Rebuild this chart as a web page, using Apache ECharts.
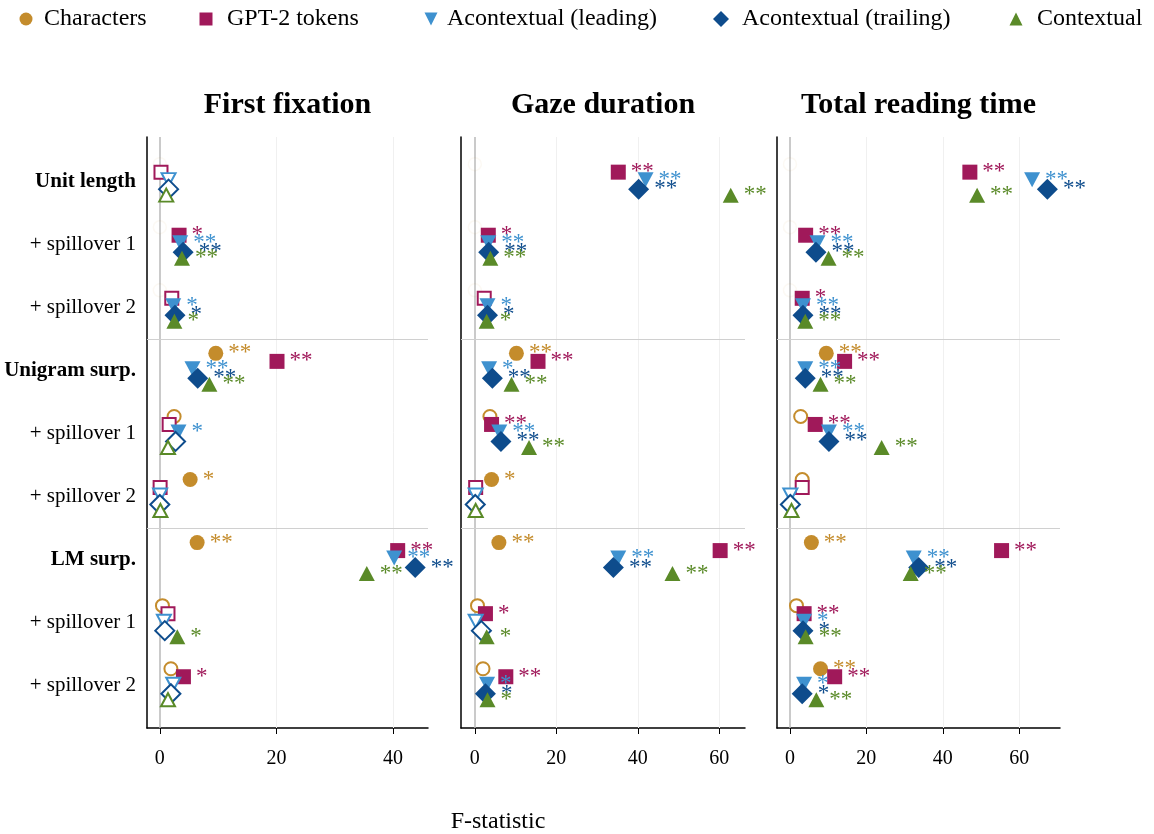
<!DOCTYPE html>
<html>
<head>
<meta charset="utf-8">
<script src="https://cdn.jsdelivr.net/npm/echarts@6/dist/echarts.min.js"></script>
<style>html,body{margin:0;padding:0;background:#fff;}#c{width:1154px;height:834px;}</style>
</head>
<body>
<div id="c"></div>
<script>
// ---- data ----
const rowLabels = ['Unit length','+ spillover 1','+ spillover 2','Unigram surp.','+ spillover 1','+ spillover 2','LM surp.','+ spillover 1','+ spillover 2'];
const headerRows = [0,3,6];
const panelTitles = ['First fixation','Gaze duration','Total reading time'];
const seriesNames = ['Characters','GPT-2 tokens','Acontextual (leading)','Acontextual (trailing)','Contextual'];
const xTicks = [[0,20,40],[0,20,40,60],[0,20,40,60]];

// First fixation
const ffChars = [0,0,0, 9.6,2.45,5.2, 6.4,0.45,1.9];
const ffCharsSig = ['na','na','na','**','','*','**','',''];
const ffTok = [0.2,3.3,2.05, 20.1,1.6,0.05, 40.8,1.4,4.05];
const ffTokSig = ['','*','','**','','','**','','*'];
const ffLead = [1.5,3.5,2.3, 5.6,3.2,0.05, 40.2,0.7,2.3];
const ffLeadSig = ['','**','*','**','*','','**','',''];
const ffTrail = [1.5,4.0,2.6, 6.5,2.7,0, 43.8,0.85,1.9];
const ffTrailSig = ['','**','*','**','','','**','',''];
const ffCtx = [1.1,3.8,2.5, 8.5,1.4,0.1, 35.5,3.0,1.4];
const ffCtxSig = ['','**','*','**','','','**','*',''];

// Gaze duration
const gdChars = [0,0,0, 10.2,3.7,4.1, 5.9,0.65,2.0];
const gdCharsSig = ['na','na','na','**','','*','**','',''];
const gdTok = [35.2,3.3,2.3, 15.5,4.1,0.2, 60.2,2.6,7.6];
const gdTokSig = ['**','*','','**','**','','**','*','**'];
const gdLead = [41.9,3.3,3.1, 3.5,6.0,0.2, 35.2,0.2,3.0];
const gdLeadSig = ['**','**','*','*','**','','**','','*'];
const gdTrail = [40.2,3.4,3.1, 4.3,6.4,0.1, 34.0,1.6,2.6];
const gdTrailSig = ['**','**','*','**','**','','**','','*'];
const gdCtx = [62.8,3.8,2.9, 9.0,13.3,0.2, 48.5,2.9,3.1];
const gdCtxSig = ['**','**','*','**','**','','**','*','*'];

// Total reading time
const trChars = [0,0,0, 9.5,2.8,3.2, 5.6,1.7,8.0];
const trCharsSig = ['na','na','na','**','','','**','','**'];
const trTok = [47.1,4.1,3.2, 14.3,6.6,3.2, 55.4,3.7,11.7];
const trTokSig = ['**','**','*','**','**','','**','**','**'];
const trLead = [63.4,7.2,3.4, 4.0,10.2,0.1, 32.4,3.7,3.7];
const trLeadSig = ['**','**','**','**','**','','**','*','*'];
const trTrail = [67.4,6.8,3.4, 4.0,10.2,0.1, 33.7,3.4,3.2];
const trTrailSig = ['**','**','**','**','**','','**','*','*'];
const trCtx = [49.0,10.1,4.0, 8.0,24.0,0.4, 31.6,4.1,6.9];
const trCtxSig = ['**','**','**','**','**','','**','**','**'];

// ---- styling / layout ----
const FONT = '"Liberation Serif", "Times New Roman", serif';
const colors = ['#c48c2c','#a0195a','#3e91cf','#0e4c8c','#5a8a28'];
const symbols = ['circle','rect','path://M0,0L2,0L1,2Z','diamond','triangle'];
const sizes = [15,15,[16,15],21,[16,15]];
const offsets = [[0,-17],[0,-9],[0,-1.5],[0,8],[0,14]];
const grids = [
  {left:147, top:137, width:281, height:591},
  {left:461, top:137, width:284, height:591},
  {left:777, top:137, width:283, height:591}
];
const xRanges = [[-2.2,46.0],[-3.4,66.3],[-3.4,70.7]];
const legendLeft = [14.5,194.5,419.5,708,1004.5];
const legendIcon = [13,13,13,16,13];
const legendPad = [6.5,9.5,4.5,8,9.5];

const values = [
  [ffChars, ffTok, ffLead, ffTrail, ffCtx],
  [gdChars, gdTok, gdLead, gdTrail, gdCtx],
  [trChars, trTok, trLead, trTrail, trCtx]
];
const sigs = [
  [ffCharsSig, ffTokSig, ffLeadSig, ffTrailSig, ffCtxSig],
  [gdCharsSig, gdTokSig, gdLeadSig, gdTrailSig, gdCtxSig],
  [trCharsSig, trTokSig, trLeadSig, trTrailSig, trCtxSig]
];

function shrink(sz){ return Array.isArray(sz) ? [sz[0]-2, sz[1]-2] : sz-2; }

function buildData(xs, sg, s){
  return xs.map((x,i)=>{
    const sig = sg[i];
    const d = {value:[x,i]};
    if (sig === 'na') {
      d.symbolSize = shrink(sizes[s]);
      d.itemStyle = {color:'#fff', borderColor:colors[s], borderWidth:1.5, opacity:0.05};
      d.label = {show:false};
    } else if (sig === '') {
      d.symbolSize = shrink(sizes[s]);
      d.itemStyle = {color:'#fff', borderColor:colors[s], borderWidth:2};
      d.label = {show:false};
    } else {
      d.label = {show:true, formatter:sig};
    }
    return d;
  });
}

const series = [];
const xAxes = [], yAxes = [];
for (let k=0;k<3;k++){
  xAxes.push({
    gridIndex:k, type:'value', min:xRanges[k][0], max:xRanges[k][1],
    axisLine:{show:true, onZero:false, lineStyle:{color:'#000', width:1.5}},
    axisTick:{show:true, customValues:xTicks[k], length:6, lineStyle:{color:'#000', width:1}},
    axisLabel:{customValues:xTicks[k], fontSize:20, fontFamily:FONT, color:'#000', margin:21},
    splitLine:{show:false}
  });
  yAxes.push({
    gridIndex:k, type:'value', inverse:true, min:-0.7, max:8.67,
    axisLine:{show:true, onZero:false, lineStyle:{color:'#000', width:1.5}},
    axisTick:{show:false},
    splitLine:{show:false},
    axisLabel:{
      show:k===0, customValues:[0,1,2,3,4,5,6,7,8], margin:11,
      formatter:(v)=>{ const i=Math.round(v); return headerRows.includes(i) ? '{b|'+rowLabels[i]+'}' : '{r|'+rowLabels[i]+'}'; },
      rich:{
        b:{fontSize:21, fontWeight:'bold', fontFamily:FONT, color:'#000'},
        r:{fontSize:21, fontFamily:FONT, color:'#000'}
      }
    }
  });
  // reference lines (zero line, light grid lines, group separators)
  const ml = [{xAxis:0, lineStyle:{color:'#b8b8b8', width:1.5, type:'solid'}}];
  xTicks[k].slice(1).forEach(t=>ml.push({xAxis:t, lineStyle:{color:'#f0f0f0', width:1, type:'solid'}}));
  ml.push({yAxis:2.5, lineStyle:{color:'#d0d0d0', width:1, type:'solid'}});
  ml.push({yAxis:5.5, lineStyle:{color:'#d0d0d0', width:1, type:'solid'}});
  series.push({
    type:'scatter', name:'_ref'+k, xAxisIndex:k, yAxisIndex:k, data:[], z:1,
    markLine:{silent:true, z:1, symbol:['none','none'], label:{show:false}, animation:false, data:ml}
  });
  for (let s=0;s<5;s++){
    series.push({
      type:'scatter', name:seriesNames[s], xAxisIndex:k, yAxisIndex:k, z:3,
      symbol:symbols[s], symbolSize:sizes[s], symbolOffset:offsets[s], symbolKeepAspect:false,
      itemStyle:{color:colors[s], opacity:1},
      label:{position:'right', distance:5, color:colors[s], fontSize:23, fontFamily:FONT},
      emphasis:{disabled:true},
      data:buildData(values[k][s], sigs[k][s], s)
    });
  }
}

const titles = panelTitles.map((t,k)=>({
  text:t, left:grids[k].left + grids[k].width/2, top:90, textAlign:'center', padding:0,
  textStyle:{fontSize:30, fontWeight:'bold', fontFamily:FONT, color:'#000'}
}));
titles.push({text:'F-statistic', left:498, top:810, textAlign:'center', padding:0,
  textStyle:{fontSize:24, fontWeight:'normal', fontFamily:FONT, color:'#000'}});

const legends = seriesNames.map((n,i)=>({
  data:[n], left:legendLeft[i], top:2, itemWidth:legendIcon[i], itemHeight:legendIcon[i], selectedMode:false,
  textStyle:{fontSize:24, fontFamily:FONT, color:'#000', padding:[0,0,0,legendPad[i]]}
}));

const chart = echarts.init(document.getElementById('c'), null, {renderer:'canvas'});
chart.setOption({
  animation:false,
  backgroundColor:'#fff',
  textStyle:{fontFamily:FONT},
  title:titles,
  legend:legends,
  grid:grids,
  xAxis:xAxes,
  yAxis:yAxes,
  series:series
});
</script>
</body>
</html>
